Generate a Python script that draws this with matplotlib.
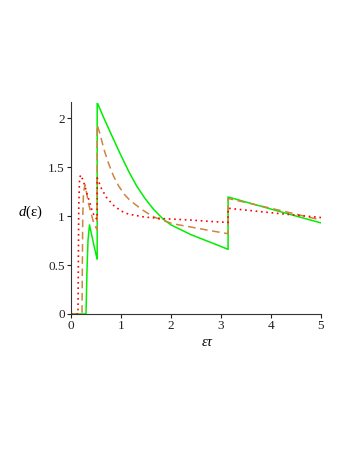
import matplotlib
matplotlib.use("Agg")
import matplotlib.pyplot as plt

# ---- data ----
PI = 3.14159
J1 = 0.5236

green_x = [0, 0.30, 0.32, 0.34, 0.37, 0.40, 0.45, 0.50, J1, J1,
           0.65, 0.80, 0.98, 1.15, 1.31, 1.48, 1.65, 1.84, 2.00, 2.20, 2.40, 2.70, 2.90, PI, PI,
           4.08, 5.0]
green_y = [0, 0, 0.45, 0.75, 0.91, 0.84, 0.72, 0.61, 0.56, 2.16,
           2.01, 1.84, 1.64, 1.46, 1.31, 1.18, 1.07, 0.97, 0.91, 0.86, 0.81, 0.75, 0.71, 0.66, 1.195,
           1.06, 0.93]

orange_x = [0, 0.22, 0.235, 0.25, 0.28, 0.31, 0.35, 0.40, 0.46, J1, J1,
            0.58, 0.66, 0.75, 0.85, 0.95, 1.07, 1.18, 1.41, 1.62, 1.81, 2.05, 2.38, 2.80, PI, PI,
            4.08, 5.0]
orange_y = [0, 0, 1.00, 1.24, 1.32, 1.24, 1.13, 1.03, 0.92, 0.86, 1.93,
            1.84, 1.68, 1.54, 1.41, 1.31, 1.22, 1.16, 1.07, 1.00, 0.96, 0.92, 0.89, 0.85, 0.82, 1.18,
            1.07, 0.96]

red_x = [0, 0.14, 0.155, 0.17, 0.19, 0.23, 0.27, 0.33, 0.38, 0.43, 0.49, J1, J1,
         0.61, 0.71, 0.85, 1.01, 1.15, 1.47, 1.81, 2.38, 2.80, PI, PI,
         4.08, 5.0]
red_y = [0, 0, 1.10, 1.36, 1.42, 1.38, 1.32, 1.21, 1.13, 1.04, 0.98, 0.97, 1.39,
         1.28, 1.19, 1.11, 1.05, 1.02, 0.99, 0.975, 0.96, 0.945, 0.935, 1.08,
         1.03, 0.985]

xticks = [0, 1, 2, 3, 4, 5]
yticks = [0, 0.5, 1, 1.5, 2]
yticklabels = ["0", "0.5", "1", "1.5", "2"]

plt.rcParams['font.family'] = ['Liberation Serif', 'DejaVu Serif']
plt.rcParams['mathtext.fontset'] = 'custom'
plt.rcParams['mathtext.rm'] = 'Liberation Serif'
plt.rcParams['mathtext.it'] = 'Liberation Serif:italic'

fig = plt.figure(figsize=(3.49, 4.51), dpi=100)
ax = fig.add_axes([71/349, 1-314/451, 250/349, (314-102.5)/451])

ax.plot(green_x, green_y, color='#00ee00', lw=1.1)
ax.plot(orange_x, orange_y, color='#cd853f', lw=1.1, dashes=(5, 3))
ax.plot(red_x, red_y, color='#ff0000', lw=1.2, dashes=(1, 2.2))

ax.set_xlim(0, 5)
ax.set_ylim(0, 2.16)
ax.set_xticks(xticks)
ax.set_xticklabels([str(t) for t in xticks])
ax.set_yticks(yticks)
ax.set_yticklabels(yticklabels)
for s in ['top', 'right']:
    ax.spines[s].set_visible(False)
for s in ['left', 'bottom']:
    ax.spines[s].set_linewidth(0.8)
    ax.spines[s].set_color('#333333')
ax.tick_params(direction='out', length=3, width=0.8, labelsize=9.5, pad=1.5, colors='#222222')

fig.text(30/349, 1-212/451, r'$d(\mathrm{ε})$', ha='center', va='center', fontsize=10.5)
fig.text(207/349, 1-342/451, 'ετ', ha='center', va='center', fontsize=10.5, style='italic')

fig.savefig('out.png', dpi=100)
